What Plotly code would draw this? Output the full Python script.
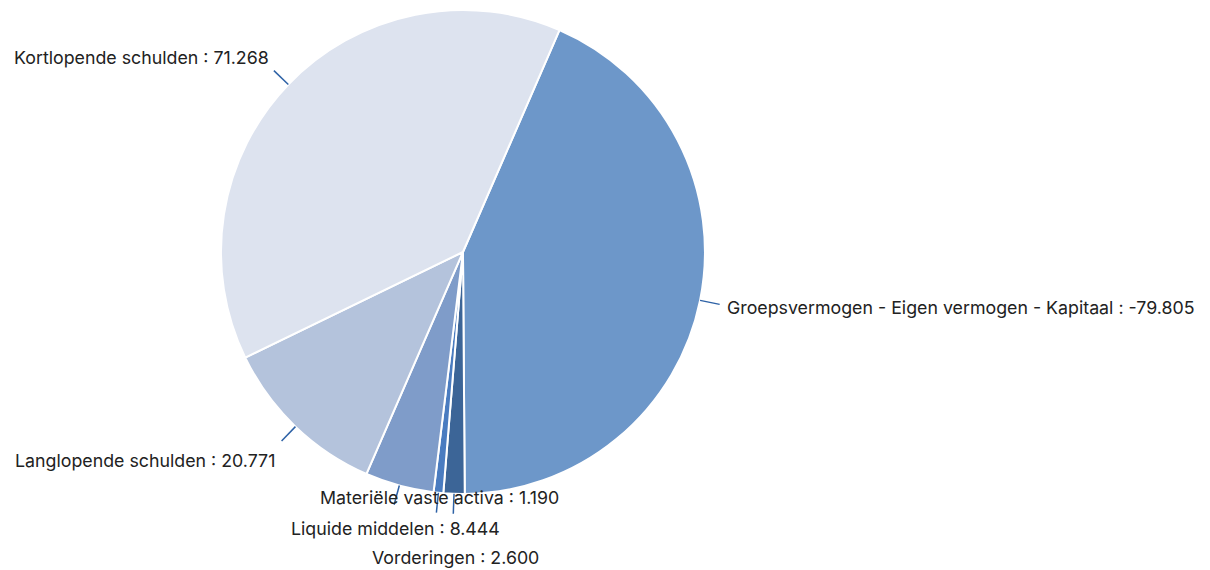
import math
import plotly.graph_objects as go

labels = [
    "Groepsvermogen - Eigen vermogen - Kapitaal",
    "Vorderingen",
    "Materiële vaste activa",
    "Liquide middelen",
    "Langlopende schulden",
    "Kortlopende schulden",
]
values = [-79.805, 2.600, 1.190, 8.444, 20.771, 71.268]
value_text = ["-79.805", "2.600", "1.190", "8.444", "20.771", "71.268"]
colors = ["#6d97c9", "#3c6597", "#4a7cc0", "#7f9cc9", "#b4c3dc", "#dde3ef"]

# label layout (text offset from leader-line end, in px, and anchor)
label_dx = [5, 2, 3, 1, -5, -3]
label_dy = [3, 44, -15, 24, 19, -13]
label_xanchor = ["left", "center", "center", "center", "right", "right"]

W, H = 1210, 570
dom_x = [0.1760, 0.5760]
dom_y = [0.1474, 0.9965]
rotation = 23.5
line_len = 20
line_color = "#2e62a6"
font = dict(family="Inter, Open Sans, sans-serif", size=17.8, color="#222222")

fig = go.Figure(go.Pie(
    labels=labels,
    values=[abs(v) for v in values],
    customdata=value_text,
    textinfo="none",
    sort=False,
    direction="clockwise",
    rotation=rotation,
    marker=dict(colors=colors, line=dict(color="white", width=2)),
    domain=dict(x=dom_x, y=dom_y),
    hovertemplate="%{label} : %{customdata}<extra></extra>",
    showlegend=False,
))

# pie geometry (pixels, y downwards) derived from the domain
cx = (dom_x[0] + dom_x[1]) / 2 * W
cy = H - (dom_y[0] + dom_y[1]) / 2 * H
r = min((dom_x[1] - dom_x[0]) * W, (dom_y[1] - dom_y[0]) * H) / 2

total = sum(abs(v) for v in values)
cum = 0.0
shapes, annotations = [], []
for i, v in enumerate(values):
    mid = math.radians(rotation + (cum + abs(v) / 2) / total * 360)
    cum += abs(v)
    sx, sy = math.sin(mid), -math.cos(mid)
    x0, y0 = cx + r * sx, cy + r * sy
    x1, y1 = cx + (r + line_len) * sx, cy + (r + line_len) * sy
    shapes.append(dict(type="line", xref="paper", yref="paper",
                       x0=x0 / W, y0=1 - y0 / H, x1=x1 / W, y1=1 - y1 / H,
                       line=dict(color=line_color, width=1.5)))
    tx, ty = x1 + label_dx[i], y1 + label_dy[i]
    annotations.append(dict(xref="paper", yref="paper", x=tx / W, y=1 - ty / H,
                            text=f"{labels[i]} : {value_text[i]}",
                            showarrow=False, xanchor=label_xanchor[i],
                            yanchor="middle", font=font))

fig.update_layout(
    width=W, height=H,
    margin=dict(l=0, r=0, t=0, b=0),
    paper_bgcolor="white",
    showlegend=False,
    shapes=shapes,
    annotations=annotations,
)
fig.write_html("out.html")
